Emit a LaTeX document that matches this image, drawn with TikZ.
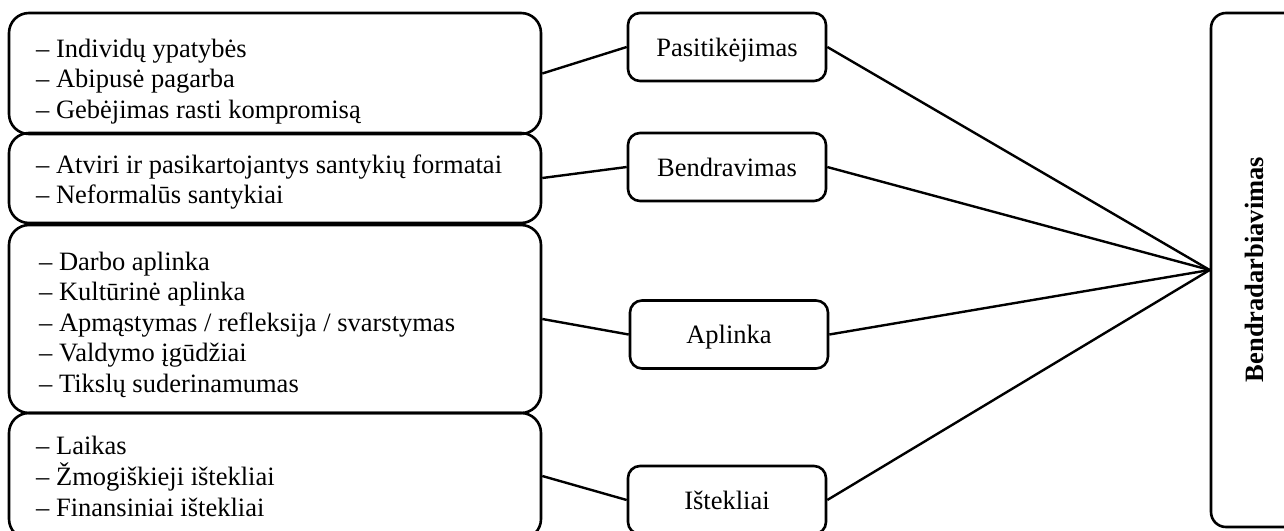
\documentclass[tikz,border=0pt]{standalone}
\usepackage{fontspec}
\setmainfont{Liberation Serif}
\begin{document}
\begin{tikzpicture}[x=1pt, y=-1pt,
  font=\fontsize{26.5}{30.5}\selectfont,
  frame/.style={draw, line width=2.6pt, inner sep=0pt},
  itembox/.style={frame, rounded corners=20pt, minimum width=532pt},
  factor/.style={frame, rounded corners=12pt, minimum width=198pt, minimum height=68pt,
                 text height=18pt, text depth=0pt},
  items/.style={anchor=base west, inner sep=0pt},
  link/.style={line width=2.4pt}]
\useasboundingbox (0,0) rectangle (1284,530);
\clip (0,0) rectangle (1284,530);

% groups of contributing aspects
\node[itembox, minimum height=121pt] (b1) at (275,73.5) {};
\node[itembox, minimum height=90pt]  (b2) at (275,178)  {};
\node[itembox, minimum height=188pt] (b3) at (275,319)  {};
\node[itembox, minimum height=126pt] (b4) at (275,476)  {};

\node[items] (t1) at (36,57) {\begin{tabular}[t]{@{}l@{}}
  – Individų ypatybės\\ – Abipusė pagarba\\ – Gebėjimas rasti kompromisą\end{tabular}};
\node[items] (t2) at (36,173) {\begin{tabular}[t]{@{}l@{}}
  – Atviri ir pasikartojantys santykių formatai\\ – Neformalūs santykiai\end{tabular}};
\node[items] (t3) at (39,270) {\begin{tabular}[t]{@{}l@{}}
  – Darbo aplinka\\ – Kultūrinė aplinka\\ – Apmąstymas / refleksija / svarstymas\\
  – Valdymo įgūdžiai\\ – Tikslų suderinamumas\end{tabular}};
\node[items] (t4) at (36,454) {\begin{tabular}[t]{@{}l@{}}
  – Laikas\\ – Žmogiškieji ištekliai\\ – Finansiniai ištekliai\end{tabular}};

% factors
\node[factor] (p1) at (727,47)    {Pasitikėjimas};
\node[factor] (p2) at (727,167)   {Bendravimas};
\node[factor] (p3) at (729,334.5) {Aplinka};
\node[factor] (p4) at (727,500)   {Ištekliai};

% outcome
\node[frame, rounded corners=15pt, minimum width=89pt, minimum height=514pt] (r) at (1255.5,270) {};
\node[rotate=90, anchor=base, inner sep=0pt, font=\fontsize{26.5}{30.5}\selectfont\bfseries]
  (rl) at (1263,269.5) {Bendradarbiavimas};

% connectors
\draw[link] (b1.east) -- (p1.west);
\draw[link] (b2.east) -- (p2.west);
\draw[link] (b3.east) -- (p3.west);
\draw[link] (b4.east) -- (p4.west);
\foreach \p in {p1,p2,p3,p4}
  \draw[link] (\p.east) -- (r.west);
\end{tikzpicture}
\end{document}
